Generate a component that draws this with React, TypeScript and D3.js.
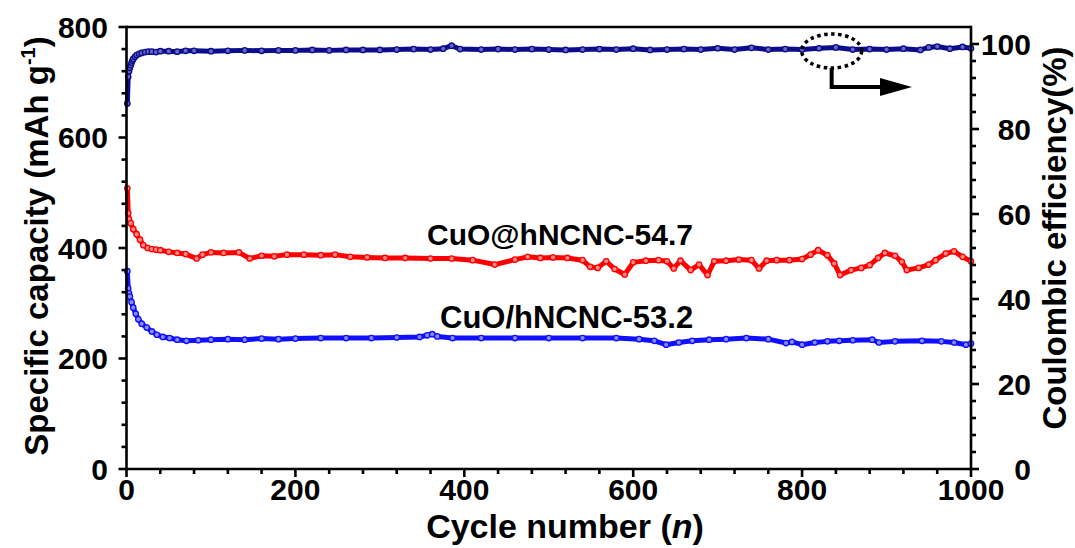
import React from 'react';
import * as d3 from 'd3';

// ---- data ----
const redCycles = [1, 2, 3, 5, 8, 12, 16, 20, 25, 30, 35, 40, 50, 60, 70, 83, 90, 100, 115, 133, 146, 160, 175, 190, 210, 230, 247, 265, 285, 306, 330, 360, 385, 410, 436, 460, 475, 490, 505, 522, 540, 549, 558, 568, 578, 590, 600, 615, 630, 640, 648, 656, 668, 678, 688, 696, 710, 725, 740, 749, 758, 770, 785, 800, 810, 819, 830, 838, 845, 858, 870, 880, 890, 898, 910, 918, 924, 938, 950, 958, 970, 980, 990, 1000];
const redValues = [508, 463, 452, 445, 434, 425, 415, 405, 400, 398, 397, 396, 393, 391, 389, 381, 388, 392, 391, 392, 381, 386, 385, 388, 388, 387, 388, 384, 383, 382, 382, 381, 381, 378, 370, 379, 384, 382, 383, 382, 378, 366, 364, 376, 362, 352, 374, 377, 378, 376, 363, 377, 360, 370, 351, 376, 377, 379, 378, 363, 377, 378, 378, 380, 388, 396, 387, 372, 351, 360, 364, 369, 382, 391, 386, 375, 360, 364, 370, 378, 390, 394, 384, 376];

const blueCycles = [1, 2, 3, 4, 6, 8, 11, 14, 18, 24, 30, 36, 43, 51, 60, 71, 85, 100, 120, 140, 160, 180, 200, 230, 260, 290, 320, 347, 356, 362, 368, 386, 420, 460, 500, 540, 580, 607, 625, 639, 654, 670, 690, 710, 734, 760, 781, 788, 800, 815, 830, 844, 860, 883, 891, 910, 942, 965, 980, 994, 1000];
const blueValues = [358, 327, 318, 312, 302, 292, 281, 271, 263, 256, 249, 243, 239, 237, 234, 232, 233, 234, 235, 234, 236, 235, 236, 237, 237, 237, 238, 239, 242, 244, 240, 237, 237, 237, 237, 237, 237, 235, 232, 225, 229, 232, 234, 235, 237, 235, 228, 230, 225, 229, 231, 232, 233, 234, 229, 231, 232, 231, 229, 225, 227];

const ceCycles = [1, 2, 3, 4, 5, 6, 7, 8, 10, 12, 15, 18, 22, 26, 30, 35, 40, 50, 60, 70, 80, 100, 120, 140, 160, 180, 200, 220, 240, 260, 280, 300, 320, 340, 360, 375, 385, 395, 420, 440, 460, 480, 500, 520, 540, 560, 580, 600, 620, 640, 660, 680, 700, 720, 740, 760, 780, 800, 820, 840, 860, 880, 900, 920, 940, 950, 960, 975, 990, 1000];
const ceValues = [86.0, 92.3, 93.6, 94.4, 95.0, 95.6, 96.1, 96.5, 97.0, 97.4, 97.7, 97.9, 98.1, 98.2, 98.2, 98.1, 98.3, 98.3, 98.2, 98.4, 98.4, 98.3, 98.4, 98.5, 98.4, 98.5, 98.5, 98.6, 98.5, 98.6, 98.6, 98.6, 98.7, 98.8, 98.7, 98.9, 99.6, 98.8, 98.7, 98.8, 98.7, 98.8, 98.7, 98.6, 98.7, 98.8, 98.7, 98.9, 98.6, 98.7, 98.8, 98.7, 99.0, 98.7, 99.1, 98.7, 98.8, 98.7, 99.0, 99.2, 98.7, 98.8, 98.7, 98.9, 98.6, 99.2, 99.4, 98.9, 99.3, 99.0];

const xTicks = [0, 200, 400, 600, 800, 1000];
const leftTicks = [0, 200, 400, 600, 800];
const rightTicks = [0, 20, 40, 60, 80, 100];

const redLabel = 'CuO@hNCNC-54.7';
const blueLabel = 'CuO/hNCNC-53.2';

const FONT = '"Liberation Sans", Arial, Helvetica, sans-serif';

export default function App() {
  const W = 1075, H = 548;
  const left = 126.5, right = 971, top = 27, bottom = 469;
  const x = d3.scaleLinear().domain([0, 1000]).range([left, right]);
  const yL = d3.scaleLinear().domain([0, 800]).range([bottom, top]);
  const yR = d3.scaleLinear().domain([0, 104]).range([bottom, top]);

  const mk = (cs: number[], vs: number[]) => cs.map((c, i) => [c, vs[i]] as [number, number]);
  const red = mk(redCycles, redValues);
  const blue = mk(blueCycles, blueValues);
  const ce = mk(ceCycles, ceValues);

  const lineL = d3.line<[number, number]>().x(d => x(d[0])).y(d => yL(d[1]));
  const lineR = d3.line<[number, number]>().x(d => x(d[0])).y(d => yR(d[1]));

  const xMinor = d3.range(0, 1001, 40).filter(v => v % 200 !== 0);
  const lMinor = d3.range(0, 801, 40).filter(v => v % 200 !== 0);
  const rMinor = d3.range(0, 101, 4).filter(v => v % 20 !== 0);

  const series = (pts: [number, number][], line: any, ys: any, color: string, fill: string) => (
    <g>
      <path d={line(pts) || ''} fill="none" stroke={color} strokeWidth={5} strokeLinejoin="round" strokeLinecap="round" />
      {pts.map((p, i) => (
        <circle key={i} cx={x(p[0])} cy={ys(p[1])} r={2.7} fill={fill} stroke={color} strokeWidth={1.3} />
      ))}
    </g>
  );

  const sw = 2.6;
  const ax = 835;

  return (
    <svg width={W} height={H} style={{ position: 'absolute', left: 0, top: 0, background: '#fff' }} fontFamily={FONT}>
      <rect x={0} y={0} width={W} height={H} fill="#fff" />
      {/* data */}
      {series(ce, lineR, yR, '#0d0d8c', '#6666c4')}
      {series(red, lineL, yL, '#ff0000', '#ff8a8a')}
      {series(blue, lineL, yL, '#1010ff', '#8a8aff')}

      {/* frame */}
      <line x1={left} x2={right} y1={top} y2={top} stroke="#000" strokeWidth={sw} />
      <line x1={left} x2={left} y1={top - sw / 2} y2={bottom + sw / 2} stroke="#000" strokeWidth={sw} />
      <line x1={right} x2={right} y1={top - sw / 2} y2={bottom + sw / 2} stroke="#000" strokeWidth={sw} />
      <line x1={left - sw / 2} x2={right + sw / 2} y1={bottom} y2={bottom} stroke="#000" strokeWidth={sw} />

      {/* x ticks */}
      {xTicks.map(t => (
        <g key={'x' + t}>
          <line x1={x(t)} x2={x(t)} y1={bottom} y2={bottom + 8} stroke="#000" strokeWidth={sw} />
          <text x={x(t)} y={500} textAnchor="middle" fontSize={30} fontWeight="bold">{t}</text>
        </g>
      ))}
      {xMinor.map(t => (
        <line key={'xm' + t} x1={x(t)} x2={x(t)} y1={bottom} y2={bottom + 5} stroke="#000" strokeWidth={sw} />
      ))}

      {/* left ticks */}
      {leftTicks.map(t => (
        <g key={'l' + t}>
          <line x1={left - 8} x2={left} y1={yL(t)} y2={yL(t)} stroke="#000" strokeWidth={sw} />
          <text x={108} y={yL(t) + 10.7} textAnchor="end" fontSize={30} fontWeight="bold">{t}</text>
        </g>
      ))}
      {lMinor.map(t => (
        <line key={'lm' + t} x1={left - 5} x2={left} y1={yL(t)} y2={yL(t)} stroke="#000" strokeWidth={sw} />
      ))}

      {/* right ticks */}
      {rightTicks.map(t => (
        <g key={'r' + t}>
          <line x1={right} x2={right + 8} y1={yR(t)} y2={yR(t)} stroke="#000" strokeWidth={sw} />
          <text x={1031} y={yR(t) + 10.7} textAnchor="end" fontSize={30} fontWeight="bold">{t}</text>
        </g>
      ))}
      {rMinor.map(t => (
        <line key={'rm' + t} x1={right} x2={right + 5} y1={yR(t)} y2={yR(t)} stroke="#000" strokeWidth={sw} />
      ))}

      {/* axis titles */}
      <text x={565} y={538} textAnchor="middle" fontSize={34} fontWeight="bold">
        Cycle number (<tspan fontStyle="italic">n</tspan>)
      </text>
      <text transform={`translate(48,246) rotate(-90)`} textAnchor="middle" fontSize={33} fontWeight="bold">
        Specific capacity (mAh g<tspan fontSize={20} dy={-13}>-1</tspan><tspan dy={13}>)</tspan>
      </text>
      <text transform={`translate(1066,238) rotate(-90)`} textAnchor="middle" fontSize={33} fontWeight="bold">
        Coulombic efficiency(%)
      </text>

      {/* series labels */}
      <text x={427} y={245} fontSize={30} fontWeight="bold">{redLabel}</text>
      <text x={440} y={328} fontSize={31} fontWeight="bold">{blueLabel}</text>

      {/* annotation */}
      <ellipse cx={x(ax)} cy={51} rx={30} ry={17} fill="none" stroke="#000" strokeWidth={3.5} strokeDasharray="3.5 3.5" />
      <path d={`M${x(ax)},68 L${x(ax)},87 L884,87`} fill="none" stroke="#000" strokeWidth={4} />
      <path d={`M880,78 L912,87 L880,96 Z`} fill="#000" />
    </svg>
  );
}
